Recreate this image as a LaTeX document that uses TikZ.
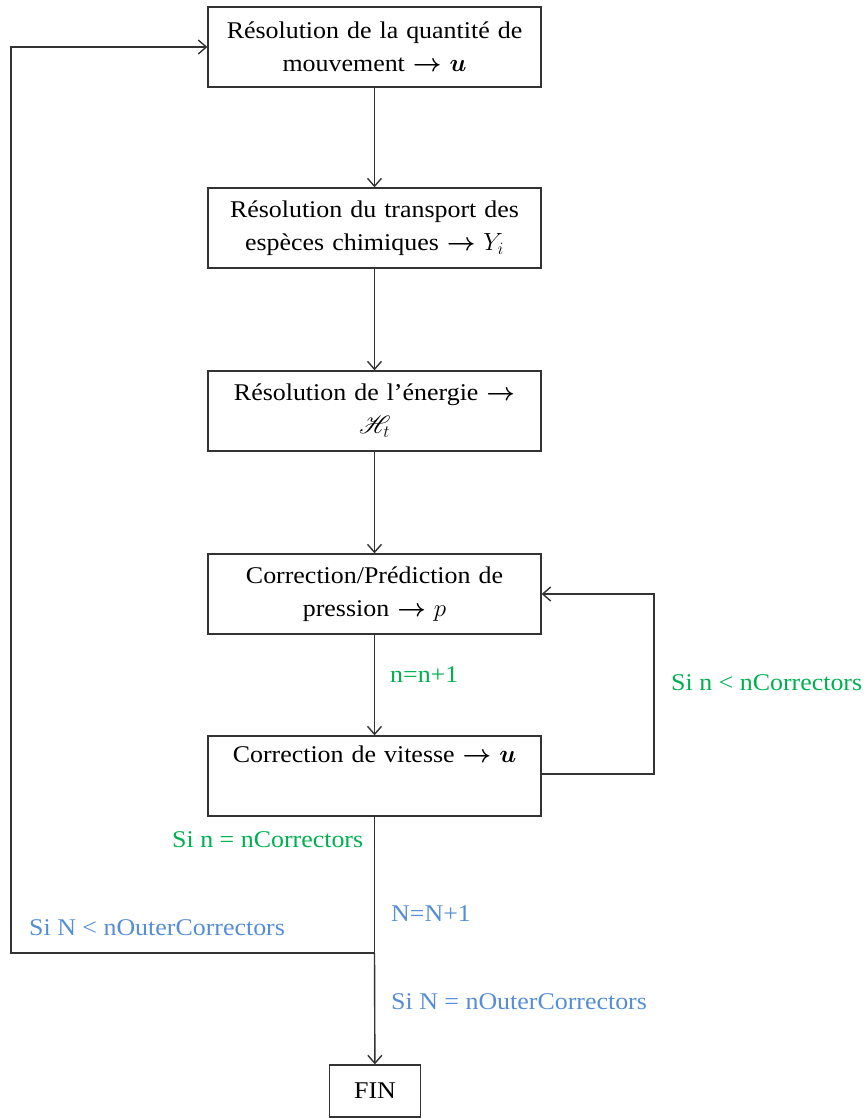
\documentclass[tikz,border=0pt]{standalone}
\usepackage{amsmath,amssymb,bm,mathrsfs}
\usepackage{fontspec}
\setmainfont{Liberation Serif}[FakeStretch=1.08]
\usetikzlibrary{arrows.meta}
\definecolor{lgreen}{HTML}{00B050}
\definecolor{lblue}{HTML}{558ED5}
\begin{document}
\begin{tikzpicture}[x=1pt,y=-1pt,
  every node/.style={font=\fontsize{24}{33}\selectfont},
  box/.style={draw=black!80,line width=1.3pt,text width=333pt,align=center,minimum height=80pt,inner sep=0pt},
  conn/.style={draw=black!80,line width=1.4pt},
  arr/.style={conn,-{Straight Barb[length=8pt,width=14pt]}},
  glab/.style={anchor=west,text=lgreen,inner sep=0pt},
  blab/.style={anchor=west,text=lblue,inner sep=0pt}]
\useasboundingbox (0,0) rectangle (865,1118);
\node[box] (b1) at (374.5,47) {Résolution de la quantité de\\ mouvement $\boldsymbol{\rightarrow}$ $\bm{u}$};
\node[box] (b2) at (374.5,228) {Résolution du transport des\\ espèces chimiques $\boldsymbol{\rightarrow}$ $Y_i$};
\node[box] (b3) at (374.5,411) {Résolution de l’énergie $\boldsymbol{\rightarrow}$\\ $\mathscr{H}_t$};
\node[box] (b4) at (374.5,594) {Correction/Prédiction de\\ pression $\boldsymbol{\rightarrow}$ $p$};
\node[box] (b5) at (374.5,776) {Correction de vitesse $\boldsymbol{\rightarrow}$ $\bm{u}$\\ \strut};
\node[draw=black!80,line width=1.3pt,minimum width=91pt,minimum height=52pt,inner sep=0pt] (fin) at (375,1091) {FIN};
\coordinate (j) at (374.5,953);
\coordinate (lc) at (11,953);
\coordinate (rc) at (654,774);
\draw[arr] (b1) -- (b2);
\draw[arr] (b2) -- (b3);
\draw[arr] (b3) -- (b4);
\draw[arr] (b4) -- (b5);
\draw[arr] (b5.east |- rc) -- (rc) |- (b4.east);
\draw[conn] (b5) -- (j);
\draw[arr] (j) -- (fin);
\draw[arr] (j) -- (lc) |- (b1.west);
\node[glab] (l1) at (390,675) {n=n+1};
\node[glab] (l2) at (671,683) {Si n < nCorrectors};
\node[glab] (l3) at (172,840) {Si n = nCorrectors};
\node[blab] (l4) at (391,914) {N=N+1};
\node[blab] (l5) at (29,928) {Si N < nOuterCorrectors};
\node[blab] (l6) at (391,1002) {Si N = nOuterCorrectors};
\end{tikzpicture}
\end{document}
